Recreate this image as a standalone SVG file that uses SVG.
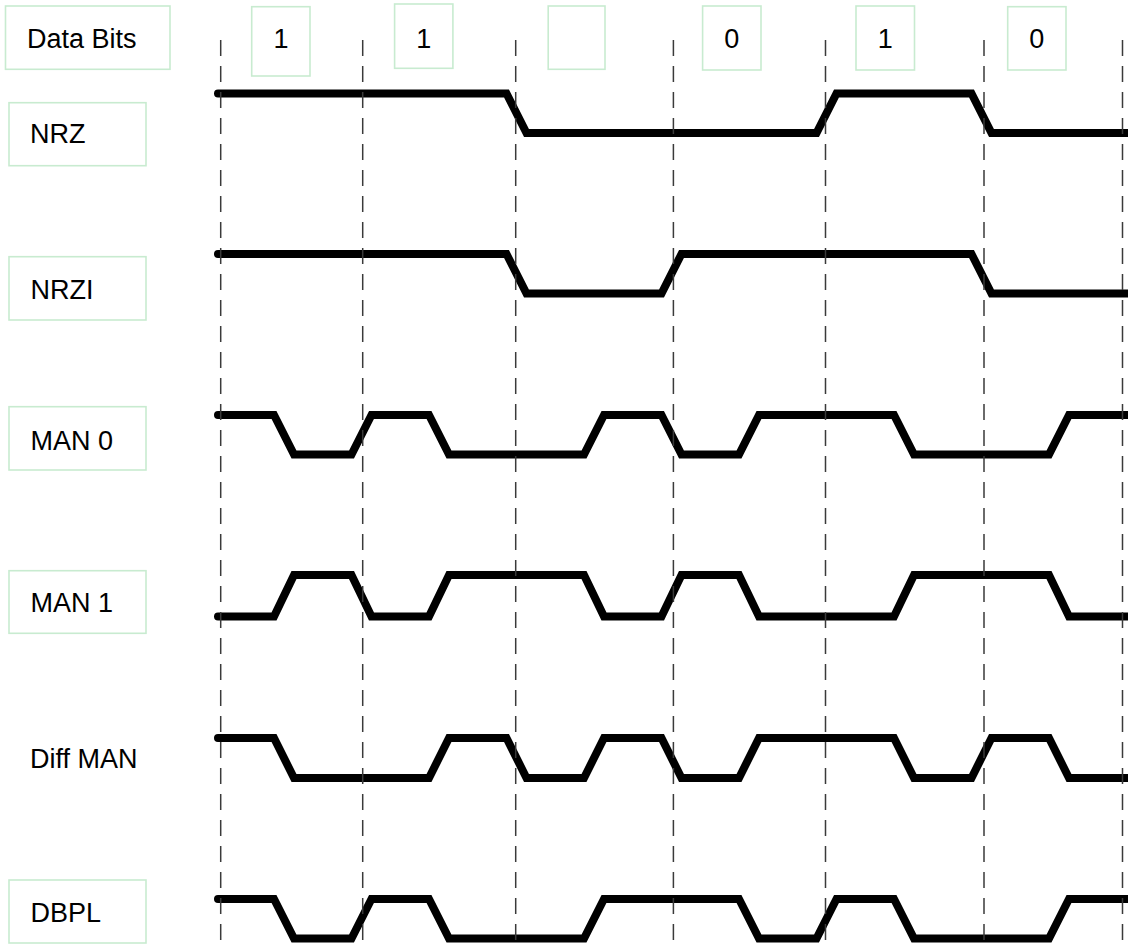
<svg xmlns="http://www.w3.org/2000/svg" width="1128" height="950" viewBox="0 0 1128 950">
<style>
.box{fill:#fff;stroke:#c8ebd0;stroke-width:1.6}
.lbl{font-family:"Liberation Sans",Arial,sans-serif;font-size:27px;fill:#000}
.bit{font-family:"Liberation Sans",Arial,sans-serif;font-size:27px;fill:#000;text-anchor:middle}
.wave{fill:none;stroke:#000;stroke-width:8;stroke-linecap:round;stroke-linejoin:miter}
.grid{stroke:#3a3a3a;stroke-width:1.5;stroke-dasharray:16 10}
</style>
<rect width="1128" height="950" fill="#fff"/>
<g id="labels">
<g id="data-bits"><rect class="box" x="5.5" y="6" width="164.5" height="63.3"/><text class="lbl" x="27" y="48.3">Data Bits</text></g>
<g id="nrz-label"><rect class="box" x="9" y="102.7" width="137" height="63"/><text class="lbl" x="30" y="143.3">NRZ</text></g>
<g id="nrzi-label"><rect class="box" x="9" y="256.7" width="137" height="63.3"/><text class="lbl" x="30.5" y="299.3">NRZI</text></g>
<g id="man0-label"><rect class="box" x="9" y="406.7" width="137" height="63.3"/><text class="lbl" x="30.5" y="450">MAN 0</text></g>
<g id="man1-label"><rect class="box" x="9" y="570.7" width="137" height="62.6"/><text class="lbl" x="30.5" y="611.7">MAN 1</text></g>
<g id="diffman-label"><text class="lbl" x="30" y="767.7">Diff MAN</text></g>
<g id="dbpl-label"><rect class="box" x="9" y="880" width="137" height="63"/><text class="lbl" x="30.5" y="921.7">DBPL</text></g>
</g>
<g id="bits">
<g id="bit1"><rect class="box" x="251.7" y="6.7" width="58.3" height="69.3"/><text class="bit" x="281" y="48.3">1</text></g>
<g id="bit2"><rect class="box" x="394.6" y="4" width="58.3" height="64.3"/><text class="bit" x="423.7" y="48.3">1</text></g>
<g id="bit3"><rect class="box" x="548.2" y="6" width="56.8" height="63.3"/></g>
<g id="bit4"><rect class="box" x="702.6" y="6" width="58.4" height="64"/><text class="bit" x="731.8" y="48.3">0</text></g>
<g id="bit5"><rect class="box" x="856" y="6" width="58.5" height="64"/><text class="bit" x="885.2" y="48.3">1</text></g>
<g id="bit6"><rect class="box" x="1007.7" y="6.7" width="58.3" height="63.3"/><text class="bit" x="1036.8" y="48.3">0</text></g>
</g>
<g id="waveforms">
<path id="nrz" class="wave" d="M218,93.5 H506.5 L526.5,133 H816.5 L836.5,93.5 H971.5 L991.5,133 H1134"/>
<path id="nrzi" class="wave" d="M218,254 H506.5 L526.5,293.5 H661.5 L681.5,254 H971.5 L991.5,293.5 H1134"/>
<path id="man0" class="wave" d="M218,415 H274 L294,454.5 H351.5 L371.5,415 H429 L449,454.5 H584 L604,415 H661.5 L681.5,454.5 H739 L759,415 H894 L914,454.5 H1049 L1069,415 H1134"/>
<path id="man1" class="wave" d="M218,616.5 H274 L294,575 H351.5 L371.5,616.5 H429 L449,575 H584 L604,616.5 H661.5 L681.5,575 H739 L759,616.5 H894 L914,575 H1049 L1069,616.5 H1134"/>
<path id="diffman" class="wave" d="M218,738 H274 L294,778 H429 L449,738 H506.5 L526.5,778 H584 L604,738 H661.5 L681.5,778 H739 L759,738 H894 L914,778 H971.5 L991.5,738 H1049 L1069,778 H1134"/>
<path id="dbpl" class="wave" d="M218,899 H274 L294,938.5 H351.5 L371.5,899 H429 L449,938.5 H584 L604,899 H739 L759,938.5 H816.5 L836.5,899 H894 L914,938.5 H1049 L1069,899 H1134"/>
</g>
<g id="connectors">
<line class="grid" x1="220.7" y1="40" x2="220.7" y2="950"/>
<line class="grid" x1="362.7" y1="40" x2="362.7" y2="950"/>
<line class="grid" x1="515.7" y1="40" x2="515.7" y2="950"/>
<line class="grid" x1="673.4" y1="40" x2="673.4" y2="950"/>
<line class="grid" x1="825.5" y1="40" x2="825.5" y2="950"/>
<line class="grid" x1="984" y1="40" x2="984" y2="950"/>
<line class="grid" x1="1122.5" y1="40" x2="1122.5" y2="950"/>
</g>
</svg>
